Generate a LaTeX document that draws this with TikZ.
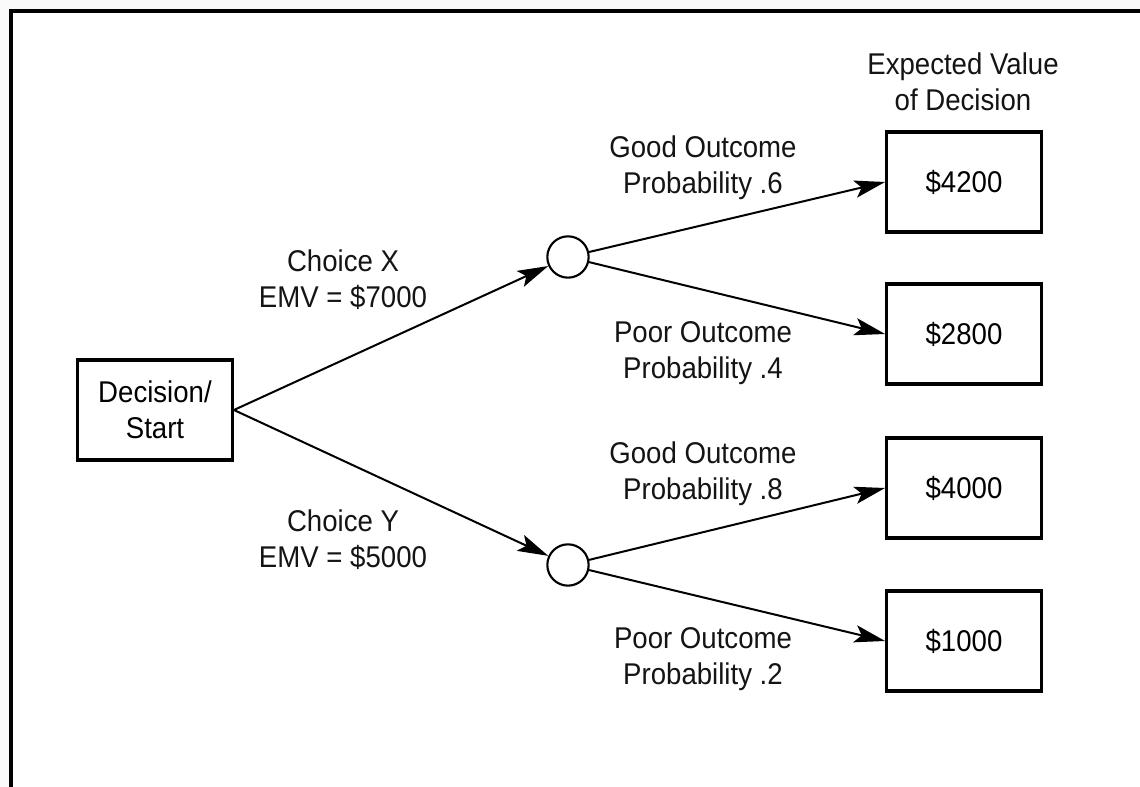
\documentclass[tikz,border=0pt]{standalone}
\usepackage{fontspec}
\setmainfont{Liberation Sans}[FakeStretch=0.92]
\usetikzlibrary{arrows.meta}
\begin{document}
\begin{tikzpicture}[x=0.75pt,y=-0.75pt,
  every node/.style={font=\fontsize{22.5pt}{27pt}\selectfont, align=center, inner sep=0pt},
  valbox/.style={draw, line width=2.4pt, minimum width=116pt, minimum height=75pt},
  chance/.style={circle, draw, line width=1.6pt, minimum size=31pt},
  branch/.style={line width=1.5pt, -{Stealth[length=23pt,width=13pt,inset=5pt]}},
  lbl/.style={text=black!92}]
  % page and frame
  \fill[black!2] (0,0) rectangle (1140,787);
  \fill[white] (11,11) rectangle (1140,787);
  \useasboundingbox (0,0) rectangle (1140,787);
  \draw[line width=2.4pt] (11,787) -- (11,11) -- (1140,11);

  % decision node and chance nodes
  \node[valbox] (dec) at (155,410) {Decision/\\Start};
  \node[chance] (cx) at (568,257) {};
  \node[chance] (cy) at (568,565) {};

  % outcome values
  \node[valbox] (v1) at (964,182) {\$4200};
  \node[valbox] (v2) at (964,334) {\$2800};
  \node[valbox] (v3) at (964,488) {\$4000};
  \node[valbox] (v4) at (964,641) {\$1000};

  % connectors
  \draw[branch] (dec.east) -- (cx);
  \draw[branch] (dec.east) -- (cy);
  \draw[branch] (cx) -- (v1.west);
  \draw[branch] (cx) -- (v2.west);
  \draw[branch] (cy) -- (v3.west);
  \draw[branch] (cy) -- (v4.west);

  % labels
  \node[lbl] (hdr) at (963,82) {Expected Value\\of Decision};
  \node[lbl] (lx) at (343,280) {Choice X\\EMV = \$7000};
  \node[lbl] (ly) at (343,540) {Choice Y\\EMV = \$5000};
  \node[lbl] (g1) at (703,168) {Good Outcome\\Probability .6};
  \node[lbl] (p1) at (703,353) {Poor Outcome\\Probability .4};
  \node[lbl] (g2) at (703,474) {Good Outcome\\Probability .8};
  \node[lbl] (p2) at (703,659) {Poor Outcome\\Probability .2};
\end{tikzpicture}
\end{document}
